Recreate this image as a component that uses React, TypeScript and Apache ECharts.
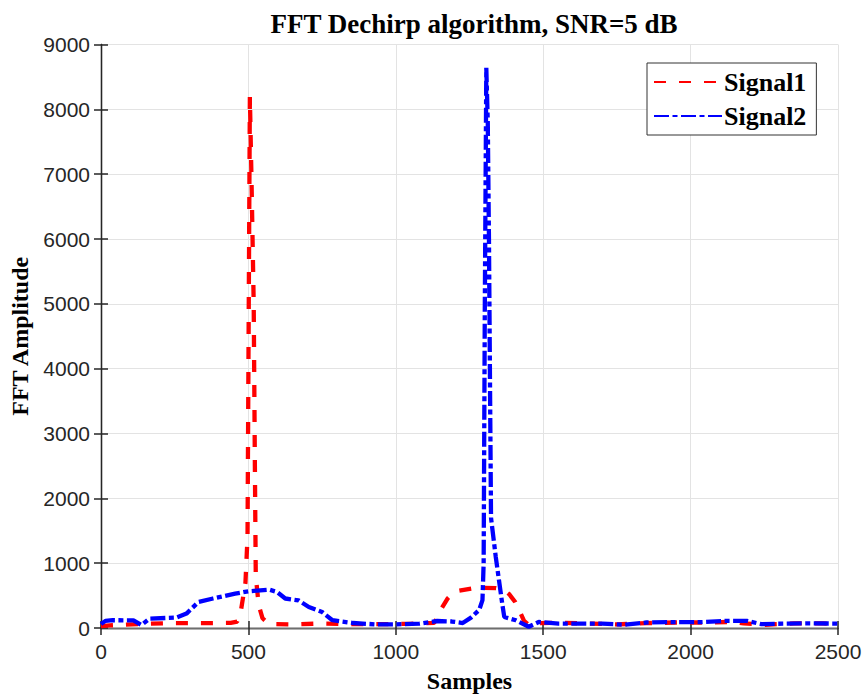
import React, { useEffect, useRef } from "react";
import * as echarts from "echarts";

const TITLE = "FFT Dechirp algorithm, SNR=5 dB";
const X_NAME = "Samples";
const Y_NAME = "FFT Amplitude";
const SERIES_NAMES = ["Signal1", "Signal2"];

const signal1X = [0, 30, 70, 150, 250, 350, 440, 462, 474, 490, 497, 505, 511, 518, 522, 525, 535, 548, 570, 650, 750, 850, 950, 1050, 1130, 1140, 1155, 1175, 1190, 1215, 1260, 1300, 1340, 1365, 1385, 1405, 1420, 1435, 1450, 1480, 1550, 1650, 1750, 1850, 1950, 2050, 2150, 2180, 2250, 2350, 2450, 2500];
const signal1Y = [30, 40, 50, 65, 75, 75, 80, 100, 250, 700, 1400, 8190, 6800, 5000, 2500, 800, 350, 150, 60, 55, 70, 60, 60, 65, 80, 150, 300, 450, 520, 575, 610, 620, 615, 590, 520, 400, 260, 110, 50, 75, 80, 70, 55, 75, 85, 85, 95, 70, 50, 70, 70, 65];

const signal2X = [0, 15, 40, 110, 137, 165, 255, 290, 330, 380, 455, 500, 570, 597, 625, 670, 705, 750, 785, 855, 935, 1000, 1080, 1140, 1190, 1227, 1255, 1283, 1294, 1298, 1302, 1307, 1312, 1316, 1320, 1323, 1339, 1350, 1361, 1368, 1407, 1451, 1485, 1552, 1625, 1700, 1775, 1850, 1930, 2040, 2120, 2190, 2240, 2290, 2400, 2500];
const signal2Y = [60, 110, 120, 118, 45, 145, 160, 222, 400, 455, 530, 566, 592, 556, 455, 427, 324, 247, 120, 77, 55, 57, 68, 108, 100, 77, 160, 280, 430, 1000, 5000, 8640, 7800, 6000, 3500, 1700, 1100, 736, 376, 170, 119, 20, 93, 68, 68, 68, 50, 85, 90, 92, 110, 110, 60, 65, 72, 68];

const X_MIN = 0, X_MAX = 2500, X_STEP = 500;
const Y_MIN = 0, Y_MAX = 9000, Y_STEP = 1000;

const pairs = (xs: number[], ys: number[]) => xs.map((x, i) => [x, ys[i]]);

export default function App() {
  const ref = useRef<HTMLDivElement>(null);
  useEffect(() => {
    document.body.style.margin = "0";
    const chart = echarts.init(ref.current!, null, { renderer: "svg" });
    const axisColor = "#262626";
    const tickFont = { fontFamily: "Liberation Sans", fontSize: 21, color: axisColor, formatter: (v: number) => String(v) };
    const nameFont = { fontFamily: "Liberation Serif", fontWeight: "bold" as const, fontSize: 24, color: "#000" };
    const baseAxisLine = { show: true, lineStyle: { color: axisColor, width: 1.3 } };
    const tick = { show: true, inside: true, length: 7, lineStyle: { color: axisColor, width: 1.5 } };
    chart.setOption({
      animation: false,
      backgroundColor: "#fff",
      title: {
        text: TITLE,
        left: 469,
        textAlign: "center",
        top: 5,
        textStyle: { fontFamily: "Liberation Serif", fontWeight: "bold", fontSize: 27, color: "#000" },
      },
      grid: { left: 101, right: 27, top: 44.5, bottom: 67, outerBoundsMode: "none", containLabel: false },
      legend: {
        orient: "vertical",
        left: 647,
        top: 63,
        padding: [6, 10, 6, 6],
        itemGap: 8,
        itemWidth: 68,
        itemHeight: 14,
        backgroundColor: "#fff",
        borderColor: "#333",
        borderWidth: 1,
        borderRadius: 0,
        itemStyle: { opacity: 0 },
        textStyle: { fontFamily: "Liberation Serif", fontWeight: "bold", fontSize: 26, color: "#000", padding: [0, 0, 0, -3] },
        data: SERIES_NAMES,
      },
      xAxis: [
        {
          type: "value", min: X_MIN, max: X_MAX, interval: X_STEP, position: "bottom",
          name: X_NAME, nameLocation: "middle", nameGap: 41, nameTextStyle: nameFont,
          axisLine: baseAxisLine, axisTick: tick,
          axisLabel: { ...tickFont, margin: 13 },
          splitLine: { show: true, lineStyle: { color: "#e3e3e3", width: 1 } },
        },
        {
          type: "value", min: X_MIN, max: X_MAX, interval: X_STEP, position: "top",
          axisLine: { show: true, lineStyle: { color: "#6e6e6e", width: 1.3 } }, axisTick: tick, axisLabel: { show: false }, splitLine: { show: false },
        },
      ],
      yAxis: [
        {
          type: "value", min: Y_MIN, max: Y_MAX, interval: Y_STEP, position: "left",
          name: Y_NAME, nameLocation: "middle", nameGap: 66, nameRotate: 90, nameTextStyle: nameFont,
          axisLine: baseAxisLine, axisTick: tick,
          axisLabel: { ...tickFont, margin: 11 },
          splitLine: { show: true, lineStyle: { color: "#e3e3e3", width: 1 } },
        },
        {
          type: "value", min: Y_MIN, max: Y_MAX, interval: Y_STEP, position: "right",
          axisLine: baseAxisLine, axisTick: tick, axisLabel: { show: false }, splitLine: { show: false },
        },
      ],
      series: [
        {
          name: SERIES_NAMES[0], type: "line", xAxisIndex: 0, yAxisIndex: 0,
          data: pairs(signal1X, signal1Y), showSymbol: false, symbol: "none",
          lineStyle: { color: "#ff0000", width: 4.3, type: [12, 13] },
          itemStyle: { color: "#ff0000" },
        },
        {
          name: SERIES_NAMES[1], type: "line", xAxisIndex: 0, yAxisIndex: 0,
          data: pairs(signal2X, signal2Y), showSymbol: false, symbol: "none",
          lineStyle: { color: "#0000ff", width: 4.3, type: [15, 3.5, 5, 3.5] },
          itemStyle: { color: "#0000ff" },
        },
      ],
    });
    return () => chart.dispose();
  }, []);
  return <div ref={ref} style={{ width: 865, height: 695 }} />;
}
